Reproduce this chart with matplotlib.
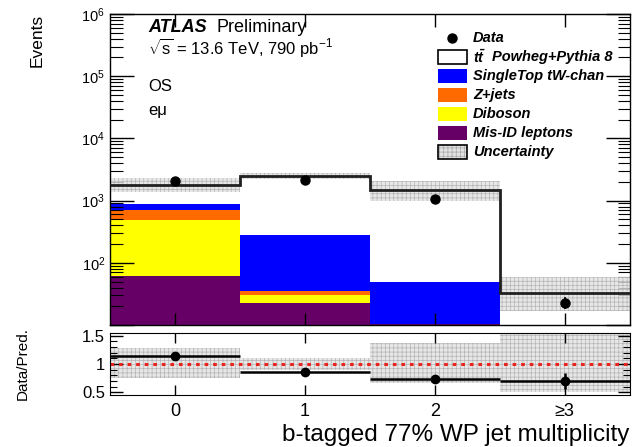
import numpy as np
import matplotlib
matplotlib.use("Agg")
import matplotlib.pyplot as plt
from matplotlib.patches import Rectangle
from matplotlib.ticker import LogLocator, MultipleLocator, NullFormatter, FuncFormatter

plt.rcParams['font.family'] = ['Liberation Sans', 'DejaVu Sans']
plt.rcParams['mathtext.fontset'] = 'custom'
plt.rcParams['mathtext.rm'] = 'Liberation Sans'
plt.rcParams['mathtext.it'] = 'Liberation Sans:italic'
plt.rcParams['mathtext.bf'] = 'Liberation Sans:bold:italic'
plt.rcParams['hatch.linewidth'] = 0.5

# ---------------- data ----------------
categories = ["0", "1", "2", "≥3"]
data = [2050, 2130, 1080, 23]
ttbar = [910, 2190, 1430, 29]
singletop = [180, 243, 39.7, 4]
zjets = [220, 5, 0, 0]
diboson = [430, 7, 0, 0]
misid = [61, 23, 10.3, 0]
unc_up = [0.28, 0.11, 0.38, 0.8]
unc_dn = [0.25, 0.10, 0.33, 0.5]

x = np.arange(len(categories))
edges = np.arange(len(categories) + 1) - 0.5

misid_a = np.array(misid, float)
dib_a = np.array(diboson, float)
zj_a = np.array(zjets, float)
st_a = np.array(singletop, float)
tt_a = np.array(ttbar, float)
data_a = np.array(data, float)
up_a = np.array(unc_up)
dn_a = np.array(unc_dn)
total = misid_a + dib_a + zj_a + st_a + tt_a

fig = plt.figure(figsize=(6.35, 4.47), dpi=100)
W, H = 635, 447
def fr(x0, y0, x1, y1):
    return [x0 / W, 1 - y1 / H, (x1 - x0) / W, (y1 - y0) / H]

ax = fig.add_axes(fr(110, 14, 629.5, 325))
rax = fig.add_axes(fr(110, 333, 629.5, 395))

col_misid = '#660066'
col_dib = '#ffff00'
col_zj = '#ff6a00'
col_st = '#0000ff'
band_face = '#e2e2e2'
band_hatch = '#a8a8a8'

bottom = np.zeros(len(x))
for vals, col in [(misid_a, col_misid), (dib_a, col_dib), (zj_a, col_zj), (st_a, col_st), (tt_a, 'white')]:
    ax.bar(x, vals, width=1.0, bottom=bottom, color=col, edgecolor='none', linewidth=0, zorder=1)
    bottom = bottom + vals

# uncertainty band
ax.bar(x, total * (up_a + dn_a), width=1.0, bottom=total * (1 - dn_a),
       facecolor=band_face, edgecolor=band_hatch, hatch='++++', linewidth=0, alpha=0.8, zorder=2)
ax.stairs(total, edges, baseline=None, color='#202020', linewidth=2.0, zorder=3)
ax.errorbar(x, data_a, yerr=np.sqrt(data_a), fmt='o', color='black', markersize=6.5,
            elinewidth=1.2, capsize=0, zorder=5)

ax.set_yscale('log')
ax.set_ylim(10, 1e6)
ax.set_xlim(-0.5, 3.5)
ax.set_xticks(x)
ax.tick_params(axis='x', which='both', direction='in', top=True, bottom=True, labelbottom=False, length=9, width=1)
ax.yaxis.set_major_locator(LogLocator(base=10, numticks=10))
ax.yaxis.set_minor_locator(LogLocator(base=10, subs=np.arange(2, 10), numticks=10))
ax.yaxis.set_minor_formatter(NullFormatter())
ax.yaxis.set_major_formatter(FuncFormatter(
    lambda v, p: '' if v < 50 else r'$\mathdefault{10^{%d}}$' % int(round(np.log10(v)))))
ax.tick_params(axis='y', which='major', direction='in', left=True, right=True, length=17, width=1, labelsize=10.5)
ax.tick_params(axis='y', which='minor', direction='in', left=True, right=True, length=9, width=0.8)
for sp in ax.spines.values():
    sp.set_linewidth(1.0)
ax.set_ylabel('Events', fontsize=12.5, loc='top')
ax.yaxis.set_label_coords(-0.125, 1.0)

# texts
ax.text(0.073, 0.955, 'ATLAS', transform=ax.transAxes, fontsize=13, va='center', ha='left',
        fontweight='bold', fontstyle='italic')
ax.text(0.205, 0.955, 'Preliminary', transform=ax.transAxes, fontsize=13, va='center', ha='left')
ax.text(0.073, 0.893, r'$\sqrt{\mathrm{s}}$ = 13.6 TeV, 790 pb$^{-1}$', transform=ax.transAxes, fontsize=12, va='center', ha='left')
ax.text(0.073, 0.768, 'OS', transform=ax.transAxes, fontsize=12, va='center', ha='left')
ax.text(0.073, 0.691, 'eμ', transform=ax.transAxes, fontsize=12, va='center', ha='left')

# legend (manual)
leg_labels = ['Data', 'tt', 'SingleTop tW-chan', 'Z+jets', 'Diboson', 'Mis-ID leptons', 'Uncertainty']
leg_y = [0.923, 0.862, 0.801, 0.740, 0.678, 0.617, 0.556]
bx, bw, bh = 0.631, 0.056, 0.045
tx = 0.699
for i, (lab, yy) in enumerate(zip(leg_labels, leg_y)):
    if i == 0:
        ax.plot([bx + bw / 2], [yy], 'o', color='black', markersize=6.5, transform=ax.transAxes, clip_on=False)
    elif i == 1:
        ax.add_patch(Rectangle((bx, yy - bh / 2), bw, bh, transform=ax.transAxes, facecolor='white', edgecolor='black', linewidth=1.2))
    elif i == 6:
        ax.add_patch(Rectangle((bx, yy - bh / 2), bw, bh, transform=ax.transAxes, facecolor=band_face, edgecolor=band_hatch, hatch='++++', linewidth=0))
        ax.add_patch(Rectangle((bx, yy - bh / 2), bw, bh, transform=ax.transAxes, facecolor='none', edgecolor='black', linewidth=1.2))
    else:
        col = [None, None, col_st, col_zj, col_dib, col_misid][i]
        ax.add_patch(Rectangle((bx, yy - bh / 2), bw, bh, transform=ax.transAxes, facecolor=col, edgecolor='none'))
    if i == 1:
        ax.text(tx, yy, r'$\mathbf{t\bar{t}}$', transform=ax.transAxes, fontsize=10.5, va='center', ha='left')
        ax.text(tx + 0.036, yy, 'Powheg+Pythia 8', transform=ax.transAxes, fontsize=10.5, va='center', ha='left',
                fontweight='bold', fontstyle='italic')
    else:
        ax.text(tx, yy, lab, transform=ax.transAxes, fontsize=10.5, va='center', ha='left',
                fontweight='bold', fontstyle='italic')

# ratio panel
ratio = data_a / total
ratio_err = np.sqrt(data_a) / total
rax.bar(x, up_a + dn_a, width=1.0, bottom=1 - dn_a, facecolor=band_face, edgecolor=band_hatch,
        hatch='++++', linewidth=0, alpha=0.8, zorder=1)
rax.axhline(1.0, color='#e8241c', linestyle=(0, (1.2, 1.6)), linewidth=2.2, zorder=2)
rax.errorbar(x, ratio, xerr=0.5, yerr=ratio_err, fmt='o', color='black', markersize=6,
             elinewidth=1.8, capsize=0, zorder=4)
rax.set_xlim(-0.5, 3.5)
rax.set_ylim(0.45, 1.55)
rax.set_xticks(x)
rax.set_xticklabels(categories, fontsize=13)
rax.set_yticks([0.5, 1.0, 1.5])
rax.set_yticklabels(['0.5', '1', '1.5'], fontsize=12)
rax.yaxis.set_minor_locator(MultipleLocator(0.1))
rax.tick_params(axis='x', which='both', direction='in', top=True, bottom=True, length=7, width=1, pad=6)
rax.tick_params(axis='y', which='major', direction='in', left=True, right=True, length=9, width=1)
rax.tick_params(axis='y', which='minor', direction='in', left=True, right=True, length=5, width=0.8)
rax.set_ylabel('Data/Pred.', fontsize=11)
rax.yaxis.set_label_coords(-0.155, 0.5)
rax.set_xlabel('b-tagged 77% WP jet multiplicity', fontsize=17.5, loc='right', labelpad=3)

fig.savefig('out.png', dpi=100)
